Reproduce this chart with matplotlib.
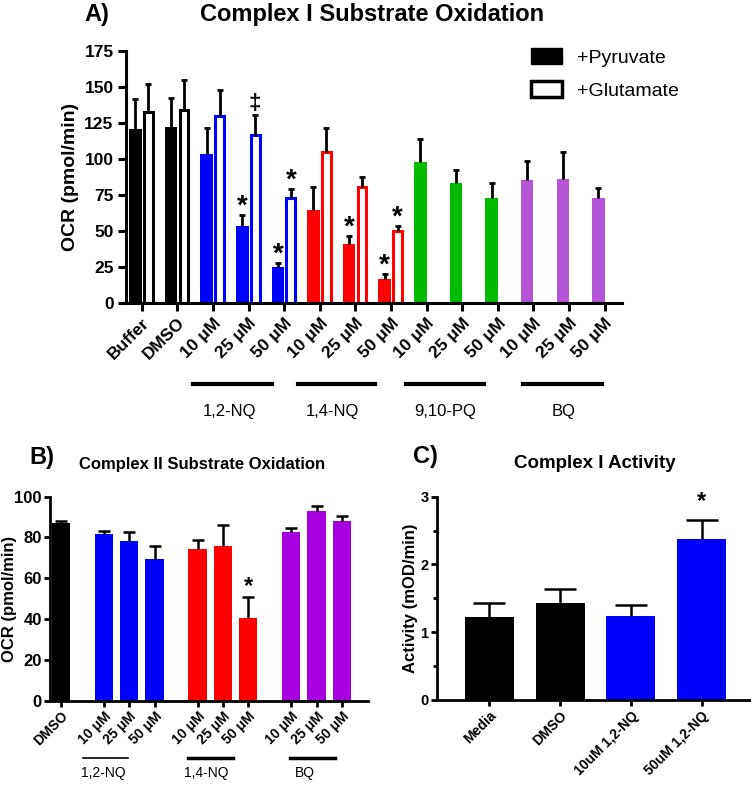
import matplotlib
matplotlib.use("Agg")
import matplotlib.pyplot as plt
import numpy as np
from matplotlib.patches import Patch

plt.rcParams['font.family'] = ['Liberation Sans', 'DejaVu Sans']

# ---- panel A data ----
a_labels = ['Buffer', 'DMSO', '10 \u03bcM', '25 \u03bcM', '50 \u03bcM', '10 \u03bcM', '25 \u03bcM', '50 \u03bcM',
            '10 \u03bcM', '25 \u03bcM', '50 \u03bcM', '10 \u03bcM', '25 \u03bcM', '50 \u03bcM']
a_colors = ['black', 'black', '#0000ff', '#0000ff', '#0000ff', '#ff0000', '#ff0000', '#ff0000',
            '#00bb00', '#00bb00', '#00bb00', '#b455d8', '#b455d8', '#b455d8']
pyr = [121, 122, 103.5, 53, 25, 64.5, 40.5, 16.5, 97.5, 83.5, 73, 85, 86, 73]
pyr_err = [20.5, 20, 18, 8, 2.5, 16, 6, 3.5, 16, 9, 10.5, 13.5, 19, 6.5]
glu = [132.5, 134, 130, 116.5, 73, 104.5, 80.5, 49.5]
glu_err = [19.5, 20.5, 18, 14, 6, 17, 7, 3.5]
a_stars_pyr = {3: '*', 4: '*', 6: '*', 7: '*'}
a_stars_glu = {3: '\u2021', 4: '*', 7: '*'}
a_groups = ['1,2-NQ', '1,4-NQ', '9,10-PQ', 'BQ']

# ---- panel B data ----
b_labels = ['DMSO', '10 \u03bcM', '25 \u03bcM', '50 \u03bcM', '10 \u03bcM', '25 \u03bcM', '50 \u03bcM',
            '10 \u03bcM', '25 \u03bcM', '50 \u03bcM']
b_colors = ['black', '#0000ff', '#0000ff', '#0000ff', '#ff0000', '#ff0000', '#ff0000',
            '#a600e0', '#a600e0', '#a600e0']
b_vals = [87, 81.5, 78.5, 69.5, 74.5, 76, 40.5, 82.5, 93, 88]
b_err = [1.3, 1.5, 4, 6.5, 4.3, 10, 10.3, 2.3, 2.3, 2.5]
b_pos = [0, 1.7, 2.7, 3.7, 5.4, 6.4, 7.4, 9.1, 10.1, 11.1]
b_groups = ['1,2-NQ', '1,4-NQ', 'BQ']

# ---- panel C data ----
c_labels = ['Media', 'DMSO', '10uM 1,2-NQ', '50uM 1,2-NQ']
c_colors = ['black', 'black', '#0000ff', '#0000ff']
c_vals = [1.22, 1.43, 1.24, 2.37]
c_err = [0.21, 0.21, 0.16, 0.28]


def up_err(ax, x, v, e, lw, cap):
    ax.vlines(x, v, np.array(v) + np.array(e), color='black', lw=lw, zorder=4)
    ax.plot(x, np.array(v) + np.array(e), ls='none', marker='_', color='black',
            ms=cap, mew=lw, zorder=4)


def style(ax, lw=2.2, tl=6):
    for s in ['top', 'right']:
        ax.spines[s].set_visible(False)
    for s in ['left', 'bottom']:
        ax.spines[s].set_linewidth(lw)
    ax.tick_params(width=lw, length=tl, pad=2)


fig = plt.figure(figsize=(7.51, 7.88), dpi=100)

# ================= A =================
ax = fig.add_axes([0.1678, 0.6159, 0.6605, 0.3194])
x = np.arange(len(pyr))
xp = x - 0.175
xg = x[:len(glu)] + 0.187
ax.bar(xp, pyr, width=0.35, color=a_colors, zorder=2)
ax.bar(xg, glu, width=0.25, facecolor='white', edgecolor=a_colors[:len(glu)], lw=2.2, zorder=2)
up_err(ax, xp, pyr, pyr_err, 2.0, 4)
up_err(ax, xg, glu, glu_err, 2.0, 4)
for i, s in a_stars_pyr.items():
    ax.text(xp[i], pyr[i] + pyr_err[i] + 1, s, ha='center', va='baseline',
            fontsize=20, fontweight='bold')
for i, s in a_stars_glu.items():
    ax.text(xg[i], glu[i] + glu_err[i] + (4 if s != '*' else 1), s, ha='center', va='baseline',
            fontsize=20 if s == '*' else 16, fontweight='bold')
ax.set_xlim(-0.44, 13.49)
ax.set_ylim(0, 175)
ax.set_yticks(np.arange(0, 176, 25))
ax.set_xticks(x)
ax.set_xticklabels(a_labels, rotation=45, ha='right', rotation_mode='anchor')
for t in ax.get_xticklabels() + ax.get_yticklabels():
    t.set_fontsize(12.5)
    t.set_fontweight('bold')
ax.set_ylabel('OCR (pmol/min)', fontsize=14, fontweight='bold')
style(ax)
ax.tick_params(pad=3)
tr = ax.get_xaxis_transform()
for (x0, x1, xc), g in zip([(1.44, 3.65, 2.48), (4.38, 6.56, 5.37), (7.42, 9.61, 8.51), (10.72, 12.92, 11.86)], a_groups):
    ax.plot([x0, x1], [-0.322, -0.322], color='black', lw=3, transform=tr, clip_on=False)
    ax.text(xc, -0.432, g, transform=tr, ha='center', va='center', fontsize=12)
handles = [Patch(facecolor='black', edgecolor='black', label='+Pyruvate'),
           Patch(facecolor='white', edgecolor='black', lw=2.5, label='+Glutamate')]
ax.legend(handles=handles, loc='upper right', bbox_to_anchor=(1.15, 1.08), frameon=False,
          fontsize=14, handlelength=1.55, handleheight=0.85, labelspacing=0.75, handletextpad=0.8)
fig.text(0.129, 0.982, 'A)', fontsize=17, fontweight='bold', ha='center', va='center')
fig.text(0.496, 0.982, 'Complex I Substrate Oxidation', fontsize=17, fontweight='bold',
         ha='center', va='center')

# ================= B =================
bx = fig.add_axes([0.0666, 0.1108, 0.4234, 0.2589])
bx.bar(b_pos, b_vals, width=0.72, color=b_colors, zorder=2)
up_err(bx, b_pos, b_vals, b_err, 1.8, 8)
bx.text(b_pos[6], b_vals[6] + b_err[6] + 2, '*', ha='center', va='baseline', fontsize=17, fontweight='bold')
bx.set_xlim(-0.43, 12.13)
bx.set_ylim(0, 100)
bx.set_yticks(np.arange(0, 101, 20))
bx.set_xticks(b_pos)
bx.set_xticklabels(b_labels, rotation=45, ha='right', rotation_mode='anchor')
for t in bx.get_xticklabels():
    t.set_fontsize(10)
    t.set_fontweight('bold')
for t in bx.get_yticklabels():
    t.set_fontsize(12)
    t.set_fontweight('bold')
bx.set_ylabel('OCR (pmol/min)', fontsize=12, fontweight='bold')
bx.yaxis.set_label_coords(-0.104, 0.5)
style(bx, 2.0, 4)
tr = bx.get_xaxis_transform()
for (x0, x1, xc), g, w in zip([(0.88, 2.66, 1.67), (5.03, 6.81, 5.73), (9.05, 10.83, 9.64)], b_groups, [1.2, 2.5, 2.5]):
    bx.plot([x0, x1], [-0.282, -0.282], color='black', lw=w, transform=tr, clip_on=False)
    bx.text(xc, -0.356, g, transform=tr, ha='center', va='center', fontsize=10)
fig.text(0.056, 0.420, 'B)', fontsize=17, fontweight='bold', ha='center', va='center')
fig.text(0.269, 0.410, 'Complex II Substrate Oxidation', fontsize=12, fontweight='bold',
         ha='center', va='center')

# ================= C =================
cx = fig.add_axes([0.5815, 0.1117, 0.4172, 0.258])
cp = np.arange(len(c_vals))
cx.bar(cp, c_vals, width=0.69, color=c_colors, zorder=2)
up_err(cx, cp, c_vals, c_err, 1.8, 23)
cx.text(cp[3], 2.93, '*', ha='center', va='center', fontsize=17, fontweight='bold')
cx.set_xlim(-0.74, 3.68)
cx.set_ylim(0, 3)
cx.set_yticks([0, 1, 2, 3])
cx.set_yticks([0.5, 1.5, 2.5], minor=True)
cx.set_xticks(cp)
cx.set_xticklabels(c_labels, rotation=45, ha='right', rotation_mode='anchor')
for t in cx.get_xticklabels():
    t.set_fontsize(10)
    t.set_fontweight('bold')
for t in cx.get_yticklabels():
    t.set_fontsize(10.5)
    t.set_fontweight('bold')
cx.set_ylabel('Activity (mOD/min)', fontsize=12, fontweight='bold')
cx.yaxis.set_label_coords(-0.06, 0.5)
style(cx, 2.0, 4)
cx.tick_params(which='minor', width=2.0, length=3)
fig.text(0.567, 0.421, 'C)', fontsize=17, fontweight='bold', ha='center', va='center')
fig.text(0.792, 0.412, 'Complex I Activity', fontsize=13.5, fontweight='bold',
         ha='center', va='center')

fig.savefig('out.png', dpi=100)
